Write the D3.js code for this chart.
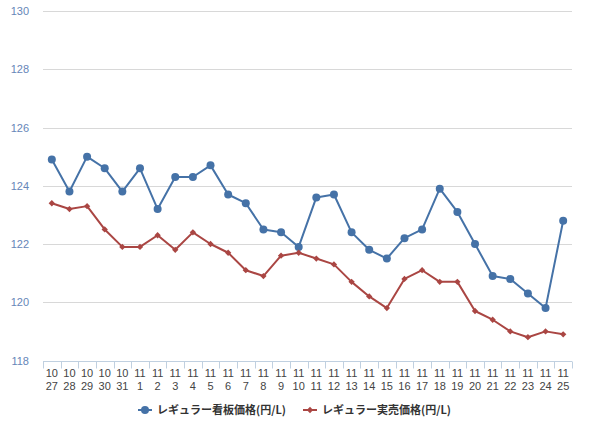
<!DOCTYPE html>
<html><head><meta charset="utf-8">
<script src="https://cdn.jsdelivr.net/npm/d3@7"></script>
<style>
html,body{margin:0;padding:0;background:#fff;}
svg{display:block;font-family:"Liberation Sans","DejaVu Sans","Noto Sans CJK JP",sans-serif;}
</style></head>
<body><svg id="c" width="600" height="433"></svg>
<script>
const months = ["10","10","10","10","10","11","11","11","11","11","11","11","11","11","11","11","11","11","11","11","11","11","11","11","11","11","11","11","11","11"];
const days = ["27","28","29","30","31","1","2","3","4","5","6","7","8","9","10","11","12","13","14","15","16","17","18","19","20","21","22","23","24","25"];
const signPrice = [124.9,123.8,125.0,124.6,123.8,124.6,123.2,124.3,124.3,124.7,123.7,123.4,122.5,122.4,121.9,123.6,123.7,122.4,121.8,121.5,122.2,122.5,123.9,123.1,122.0,120.9,120.8,120.3,119.8,122.8];
const actualPrice = [123.4,123.2,123.3,122.5,121.9,121.9,122.3,121.8,122.4,122.0,121.7,121.1,120.9,121.6,121.7,121.5,121.3,120.7,120.2,119.8,120.8,121.1,120.7,120.7,119.7,119.4,119.0,118.8,119.0,118.9];
const yTicks = [118,120,122,124,126,128,130];
const seriesNames = ["レギュラー看板価格(円/L)","レギュラー実売価格(円/L)"];
const colors = ["#4572A7","#AA4643"];

const svg = d3.select("#c");
const pLeft = 43, pRight = 572, pTop = 11, pBottom = 360.5;
const idx = d3.range(days.length);
const x = d3.scaleBand().domain(idx).range([pLeft, pRight]);
const y = d3.scaleLinear().domain([118,130]).range([pBottom, pTop]);

// grid
svg.append("g").selectAll("line").data(yTicks.filter(t=>t>118)).join("line")
  .attr("x1", pLeft).attr("x2", pRight)
  .attr("y1", d=>Math.round(y(d))+0.5).attr("y2", d=>Math.round(y(d))+0.5)
  .attr("stroke","#d8d8d8").attr("stroke-width",1);

// y labels
svg.append("g").selectAll("text").data(yTicks).join("text")
  .attr("x", 29).attr("y", d=>y(d)+4)
  .attr("text-anchor","end").attr("font-size",11).attr("fill","#6686b8")
  .text(d=>d);

// x axis
const ax = svg.append("g").attr("transform",`translate(0,${Math.round(pBottom)+0.5})`);
ax.append("line").attr("x1",pLeft).attr("x2",pRight).attr("stroke","#c0d0e0").attr("stroke-width",1);
const bounds = d3.range(days.length+1).map(i => i<days.length ? x(i) : x(days.length-1)+x.bandwidth());
ax.selectAll("line.t").data(bounds).join("line").attr("class","t")
  .attr("x1",d=>Math.round(d)+0.5).attr("x2",d=>Math.round(d)+0.5).attr("y1",0).attr("y2",7)
  .attr("stroke","#c0d0e0");
const lab = svg.append("g").selectAll("text").data(idx).join("text")
  .attr("text-anchor","middle").attr("font-size",11).attr("fill","#444")
  .attr("x", i=>x(i)+x.bandwidth()/2);
lab.append("tspan").attr("x", i=>x(i)+x.bandwidth()/2).attr("y",377).text(i=>months[i]);
lab.append("tspan").attr("x", i=>x(i)+x.bandwidth()/2).attr("y",390).text(i=>days[i]);

const cx = i => x(i)+x.bandwidth()/2;
const line = d3.line().x((d,i)=>cx(i)).y(d=>y(d));
const diamond = d3.symbol().type(d3.symbolSquare).size(20);

// series
[signPrice, actualPrice].forEach((data,s)=>{
  svg.append("path").datum(data).attr("d",line).attr("fill","none")
    .attr("stroke",colors[s]).attr("stroke-width",2).attr("stroke-linejoin","round");
  if (s===0) {
    svg.append("g").selectAll("circle").data(data).join("circle")
      .attr("cx",(d,i)=>cx(i)).attr("cy",d=>y(d)).attr("r",4).attr("fill",colors[s]);
  } else {
    svg.append("g").selectAll("path").data(data).join("path")
      .attr("d",diamond).attr("transform",(d,i)=>`translate(${cx(i)},${y(d)}) rotate(45)`).attr("fill",colors[s]);
  }
});

// legend
const legX = [138, 303];
seriesNames.forEach((n,s)=>{
  const g = svg.append("g").attr("transform",`translate(${legX[s]},410)`);
  g.append("line").attr("x1",0).attr("x2",14).attr("stroke",colors[s]).attr("stroke-width",2);
  if (s===0) g.append("circle").attr("cx",7).attr("r",4).attr("fill",colors[s]);
  else g.append("path").attr("d",diamond).attr("transform","translate(7,0) rotate(45)").attr("fill",colors[s]);
  g.append("text").attr("x",19).attr("y",4).attr("font-size",11).attr("font-weight","bold")
    .attr("fill","#333").attr("font-family","'Noto Sans CJK JP',sans-serif").text(n);
});
</script></body></html>
